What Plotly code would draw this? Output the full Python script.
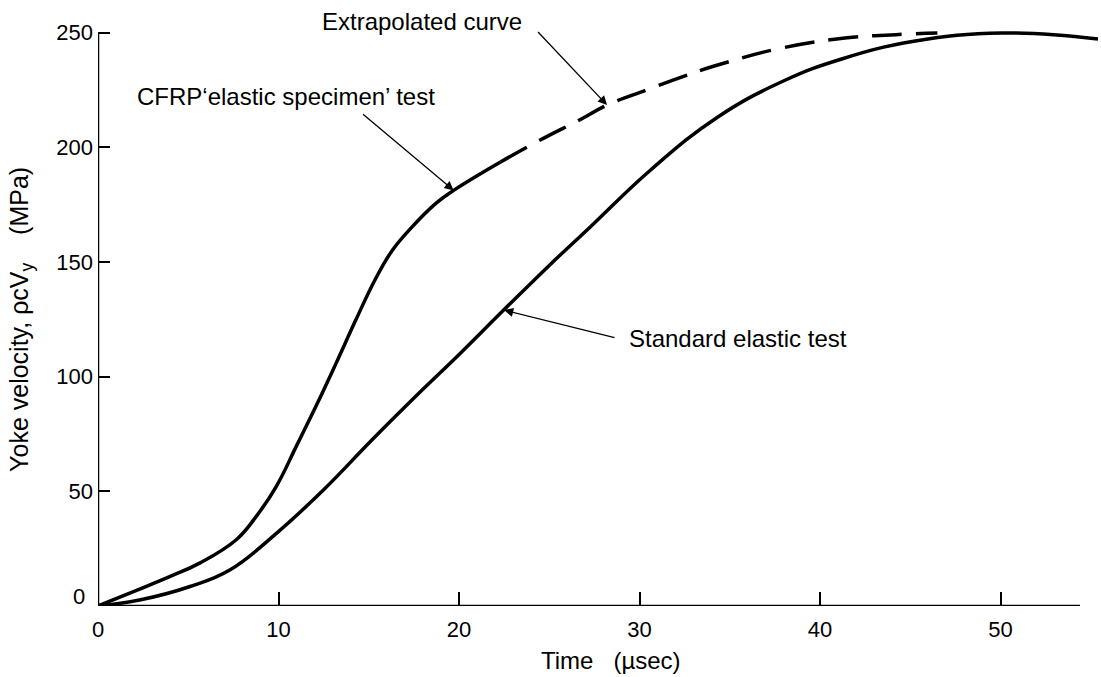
import plotly.graph_objects as go

# Standard elastic test (time in µs, yoke velocity in MPa)
std_t = [0, 2.3, 5.1, 7.3, 9.9, 12.5, 15.2, 18.0, 19.85, 22.6, 25.0, 27.3, 30.6, 34.3, 38.0, 41.2, 45.2, 50.1, 55.4]
std_v = [0, 2.6, 8.5, 15.7, 31.8, 50.7, 72.6, 94.5, 108.5, 130.0, 148.5, 165.5, 190.0, 213.0, 229.0, 238.5, 246.2, 249.8, 247.2]

# CFRP 'elastic specimen' test, measured part
cfrp_t = [0, 2.0, 3.97, 5.63, 7.66, 8.77, 9.88, 10.99, 12.1, 13.2, 14.3, 15.4, 16.3, 17.3, 18.7, 19.7, 22.3]
cfrp_v = [0, 6.4, 12.8, 18.7, 28.9, 39.1, 52.2, 69.7, 87.5, 106.0, 125.0, 143.0, 155.0, 164.4, 175.4, 181.2, 193.6]

# Extrapolated continuation of the CFRP curve
ext_t = [22.3, 24.7, 26.7, 28.2, 30.4, 32.4, 34.1, 37.9, 41.5, 44.2, 46.5]
ext_v = [193.6, 204.0, 212.0, 218.4, 225.0, 230.8, 235.3, 243.3, 247.7, 249.1, 249.8]

x_ticks = [0, 10, 20, 30, 40, 50]
y_ticks = [50, 100, 150, 200, 250]

FONT = "Liberation Sans"
INK = "black"

fig = go.Figure()
line_style = dict(color=INK, width=3.5, shape="spline", smoothing=1.2)
fig.add_trace(go.Scatter(x=std_t, y=std_v, mode="lines", line=line_style, showlegend=False))
fig.add_trace(go.Scatter(x=cfrp_t, y=cfrp_v, mode="lines", line=line_style, showlegend=False))
fig.add_trace(go.Scatter(x=ext_t, y=ext_v, mode="lines",
                         line=dict(color=INK, width=3.5, shape="spline", smoothing=1.2, dash="30px,14px"),
                         showlegend=False))

# Axis lines
fig.add_shape(type="line", xref="x", yref="y", x0=0, x1=0, y0=0, y1=250, line=dict(color=INK, width=2.5))
fig.add_shape(type="line", xref="x", yref="y", x0=0, x1=54.4, y0=0, y1=0, line=dict(color=INK, width=2.5))

label_font = dict(family=FONT, size=24, color=INK)

# Curve labels
fig.add_annotation(xref="paper", yref="paper", x=0.222, y=1.011, text="Extrapolated curve",
                   showarrow=False, xanchor="left", yanchor="middle", font=label_font)
fig.add_annotation(xref="x", yref="y", x=2.05, y=222, text="CFRP‘elastic specimen’ test",
                   showarrow=False, xanchor="left", yanchor="middle", font=label_font)
fig.add_annotation(xref="x", yref="y", x=29.3, y=116.6, text="Standard elastic test",
                   showarrow=False, xanchor="left", yanchor="middle", font=label_font)

# Leader arrows
arrow = dict(showarrow=True, arrowhead=2, arrowsize=1.4, arrowwidth=1.3, arrowcolor=INK,
             text="", xref="x", yref="y", axref="x", ayref="y")
fig.add_annotation(x=28.2, y=218.4, ax=24.3, ay=250.9, **arrow)
fig.add_annotation(x=19.7, y=181.2, ax=14.6, ay=215.0, **arrow)
fig.add_annotation(x=22.5, y=129.0, ax=28.7, ay=116.8, **arrow)

# Zero label on the value axis sits slightly above the baseline
fig.add_annotation(xref="paper", yref="paper", x=-0.011, y=0.016, text="0", showarrow=False,
                   xanchor="right", yanchor="middle", font=dict(family=FONT, size=22, color=INK))

# Axis titles
fig.add_annotation(xref="paper", yref="paper", x=0.513, y=-0.094,
                   text="Time\u00a0\u00a0\u00a0(µsec)", showarrow=False,
                   xanchor="center", yanchor="middle", font=label_font)
fig.add_annotation(xref="paper", yref="paper", x=-0.077, y=0.495, textangle=-90,
                   text="Yoke velocity, ρcV<sub>y</sub>\u00a0\u00a0\u00a0\u00a0(MPa)", showarrow=False,
                   xanchor="center", yanchor="middle", font=dict(family=FONT, size=25, color=INK))

fig.update_xaxes(range=[0, 55.4], tickvals=x_ticks, ticktext=[str(v) for v in x_ticks],
                 ticks="inside", ticklen=14, tickwidth=2, tickcolor=INK,
                 ticklabelstandoff=8,
                 showgrid=False, zeroline=False, showline=False,
                 tickfont=dict(family=FONT, size=22, color=INK))
fig.update_yaxes(range=[0, 252], tickvals=y_ticks, ticktext=[str(v) for v in y_ticks],
                 ticks="inside", ticklen=12, tickwidth=2, tickcolor=INK,
                 ticklabelstandoff=4,
                 showgrid=False, zeroline=False, showline=False,
                 tickfont=dict(family=FONT, size=22, color=INK))

fig.update_layout(width=1101, height=677, margin=dict(l=98, r=3, t=28, b=71),
                  plot_bgcolor="white", paper_bgcolor="white")

fig.write_html("out.html")
